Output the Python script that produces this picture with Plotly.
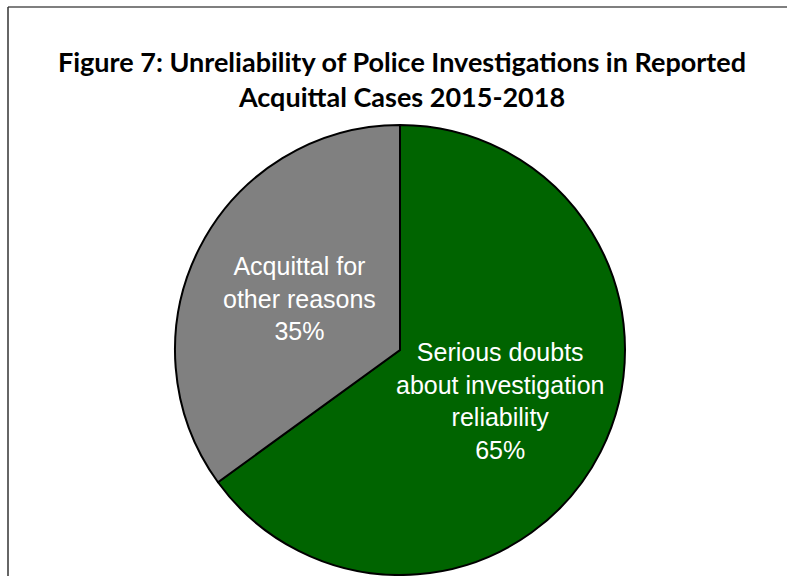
import math
import plotly.graph_objects as go

labels = ["Serious doubts<br>about investigation<br>reliability", "Acquittal for<br>other reasons"]
values = [65, 35]
colors = ["#006400", "#808080"]
title_text = "Figure 7: Unreliability of Police Investigations in Reported<br>Acquittal Cases 2015-2018"

W, H = 787, 576
dom_x = [175 / W, 625 / W]
dom_y = [1 - 575 / H, 1 - 125 / H]

fig = go.Figure(go.Pie(
    labels=labels,
    values=values,
    sort=False,
    direction="clockwise",
    rotation=0,
    marker=dict(colors=colors, line=dict(color="black", width=2)),
    textinfo="none",
    domain=dict(x=dom_x, y=dom_y),
    hoverinfo="skip",
    showlegend=False,
))

# Labels placed along each slice's bisector at half radius (Excel-style inside-end layout)
cx = (dom_x[0] + dom_x[1]) / 2
cy = (dom_y[0] + dom_y[1]) / 2
R_px = (dom_x[1] - dom_x[0]) * W / 2
total = sum(values)
cum = 0
annotations = []
for lab, v in zip(labels, values):
    mid = (cum + v / 2) / total * 2 * math.pi
    cum += v
    r = 0.5 * R_px
    ax = cx + r * math.sin(mid) / W
    ay = cy + r * math.cos(mid) / H
    annotations.append(dict(
        x=ax, y=ay, xref="paper", yref="paper", xanchor="center", yanchor="middle",
        text=f"{lab}<br>{round(v / total * 100)}%", showarrow=False, align="center",
        font=dict(family="Liberation Sans, Arial, sans-serif", size=25, color="white"),
    ))

fig.update_layout(
    width=W, height=H,
    margin=dict(l=0, r=0, t=0, b=0),
    paper_bgcolor="white",
    plot_bgcolor="white",
    title=dict(
        text="<b>" + title_text + "</b>",
        x=402 / W, xanchor="center",
        y=1 - 72 / H, yanchor="top",
        font=dict(family="Lato, Carlito, Calibri, sans-serif", size=27, color="black"),
    ),
    annotations=annotations,
    shapes=[
        dict(type="line", xref="paper", yref="paper", x0=8 / W, x1=1.01, y0=1 - 7 / H, y1=1 - 7 / H,
             line=dict(color="#555555", width=1.5)),
        dict(type="line", xref="paper", yref="paper", x0=8 / W, x1=8 / W, y0=1 - 7 / H, y1=-0.01,
             line=dict(color="#333333", width=1.5)),
    ],
)

fig.write_html(
    "out.html",
    config={"displayModeBar": False},
    post_script="document.body.style.margin='0';document.documentElement.style.overflow='hidden';",
)
